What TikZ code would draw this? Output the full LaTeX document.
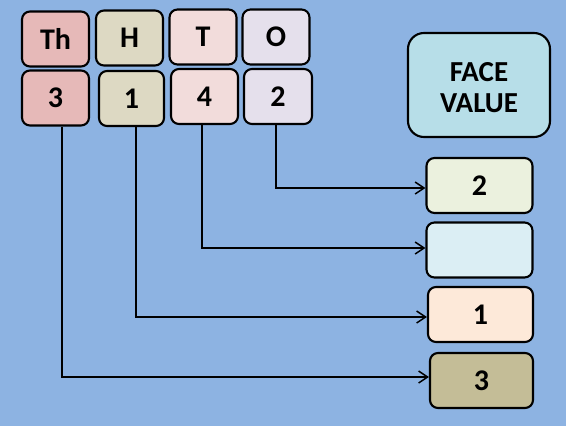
\documentclass[tikz,border=0pt]{standalone}
\usepackage{fontspec}
\setmainfont{Carlito}
\usetikzlibrary{arrows.meta}
\definecolor{bg}{HTML}{8DB3E2}
\definecolor{cTh}{HTML}{E6B9B8}
\definecolor{cH}{HTML}{DDD9C3}
\definecolor{cT}{HTML}{F2DCDB}
\definecolor{cO}{HTML}{E5E0EC}
\definecolor{cFV}{HTML}{B7DEE8}
\definecolor{cTwo}{HTML}{EBF1DE}
\definecolor{cEmpty}{HTML}{DBEEF4}
\definecolor{cOne}{HTML}{FDE9D9}
\definecolor{cThree}{HTML}{C4BD97}
\tikzset{
  box/.style={draw=black, line width=2.1pt, rounded corners=8pt, inner sep=0pt,
    minimum width=67pt, minimum height=55pt, font=\fontsize{30}{32}\selectfont\bfseries, text=black},
  rbox/.style={box, minimum width=106pt},
  arr/.style={line width=1.5pt, -{Straight Barb[length=9pt,width=12pt,line width=1.5pt]}}
}
\begin{document}
\begin{tikzpicture}[x=1pt,y=-1pt]
\fill[bg] (0,0) rectangle (566,426);
\useasboundingbox (0,0) rectangle (566,426);
% place-value headers
\node[box, fill=cTh] (hTh) at (55.5,39) {Th};
\node[box, fill=cH] (hH) at (129.5,38) {H};
\node[box, fill=cT] (hT) at (203,37) {T};
\node[box, fill=cO] (hO) at (276,37) {O};
% digits
\node[box, fill=cTh] (b3) at (55.5,98) {3};
\node[box, fill=cH, minimum width=65pt] (b1) at (131.5,98.5) {1};
\node[box, fill=cT] (b4) at (204.5,96.5) {4};
\node[box, fill=cO, minimum width=68pt] (b2) at (278,96.5) {2};
% face value
\node[box, fill=cFV, rounded corners=16pt, minimum width=142pt, minimum height=104pt,
  font=\fontsize{29}{31}\selectfont\bfseries] (fv) at (479,85)
  {\raisebox{-12pt}[0pt][0pt]{\begin{tabular}{@{}c@{}}FACE\\VALUE\end{tabular}}};
\node[rbox, fill=cTwo] (f2) at (479.5,185.5) {2};
\node[rbox, fill=cEmpty] (f4) at (479.5,250) {};
\node[rbox, fill=cOne, minimum width=105pt] (f1) at (480.5,314.5) {1};
\node[rbox, fill=cThree, minimum width=103pt] (f3) at (481.5,380.5) {3};
% connectors
\draw[arr] ([xshift=-2pt]b2.south) |- ([yshift=-2.5pt]f2.west);
\draw[arr] ([xshift=-2.5pt]b4.south) |- ([yshift=2pt]f4.west);
\draw[arr] ([xshift=4.5pt]b1.south) |- ([yshift=-2.5pt]f1.west);
\draw[arr] ([xshift=6.5pt]b3.south) |- ([yshift=3.5pt]f3.west);
\end{tikzpicture}
\end{document}
